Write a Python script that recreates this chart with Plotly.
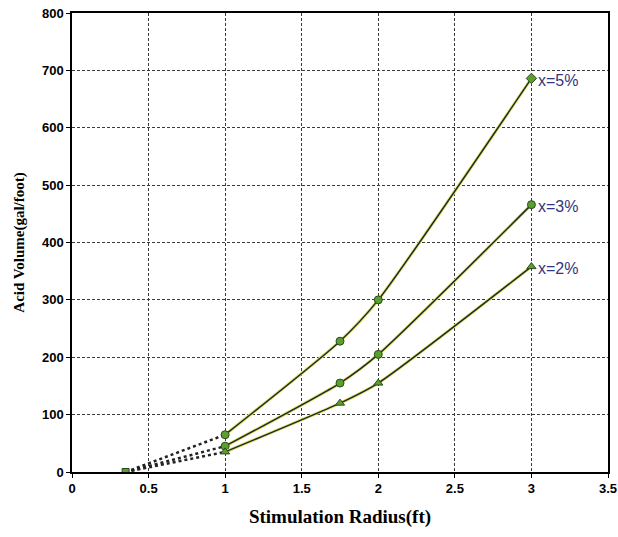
import plotly.graph_objects as go

# Stimulation radius (ft) and acid volume (gal/foot) for each acid concentration
radius = [1, 1.75, 2, 3]
vol_5 = [65, 228, 300, 686]
vol_3 = [45, 155, 205, 466]
vol_2 = [35, 120, 155, 358]

# Extrapolated start point (wellbore radius, zero volume)
r0 = 0.35
v0 = 0

series = [
    ("x=5%", vol_5, ["circle", "circle", "circle", "diamond"]),
    ("x=3%", vol_3, ["circle", "circle", "circle", "circle"]),
    ("x=2%", vol_2, ["triangle-up", "triangle-up", "triangle-up", "triangle-up"]),
]

fig = go.Figure()

marker_fill = "#5aa02c"
marker_edge = "#2d4a1e"
line_dark = "#1d2b2b"
halo = "#e6e36a"

for name, vols, symbols in series:
    # dotted extrapolation toward the origin point
    fig.add_trace(go.Scatter(
        x=[r0, radius[0]], y=[v0, vols[0]], mode="lines",
        line=dict(color="#222222", width=2.5, dash="dot"),
        showlegend=False, hoverinfo="skip"))
    # light halo under the curve
    fig.add_trace(go.Scatter(
        x=radius, y=vols, mode="lines",
        line=dict(color=halo, width=3.2, shape="spline", smoothing=0.6),
        showlegend=False, hoverinfo="skip"))
    fig.add_trace(go.Scatter(
        x=radius, y=vols, mode="lines+markers", name=name,
        line=dict(color=line_dark, width=1.5, shape="spline", smoothing=0.6),
        marker=dict(symbol=symbols, size=8, color=marker_fill,
                    line=dict(color=marker_edge, width=1)),
        showlegend=False))
    fig.add_annotation(x=radius[-1], y=vols[-1], text=name, showarrow=False,
                       xanchor="left", xshift=5, yshift=-2,
                       font=dict(family="Liberation Sans, Arial", size=16, color="#33357a"))

# shared start point
fig.add_trace(go.Scatter(
    x=[r0], y=[v0], mode="markers",
    marker=dict(symbol="square", size=7, color=marker_fill,
                line=dict(color=marker_edge, width=1)),
    showlegend=False))

axis_common = dict(
    showline=True, linecolor="black", linewidth=1.5, mirror=True,
    showgrid=True, gridcolor="#3a3a3a", gridwidth=1, griddash="3px,2px",
    ticks="outside", tickcolor="black", ticklen=4,
    tickfont=dict(family="Liberation Sans, Arial", size=13, color="black", weight="bold"),
    zeroline=False, ticklabeloverflow="allow", automargin=False,
)

fig.update_xaxes(range=[0, 3.5], dtick=0.5, **axis_common,
                 title=dict(text="<b>Stimulation Radius(ft)</b>", standoff=14,
                            font=dict(family="Liberation Serif, Times New Roman", size=19, color="black")))
fig.update_yaxes(range=[0, 800], dtick=100, **axis_common,
                 title=dict(text="<b>Acid Volume(gal/foot)</b>", standoff=14,
                            font=dict(family="Liberation Serif, Times New Roman", size=15, color="black")))

fig.update_layout(
    width=618, height=537,
    margin=dict(l=72, r=10, t=13, b=65),
    paper_bgcolor="white", plot_bgcolor="white",
)

fig.write_html("out.html")
